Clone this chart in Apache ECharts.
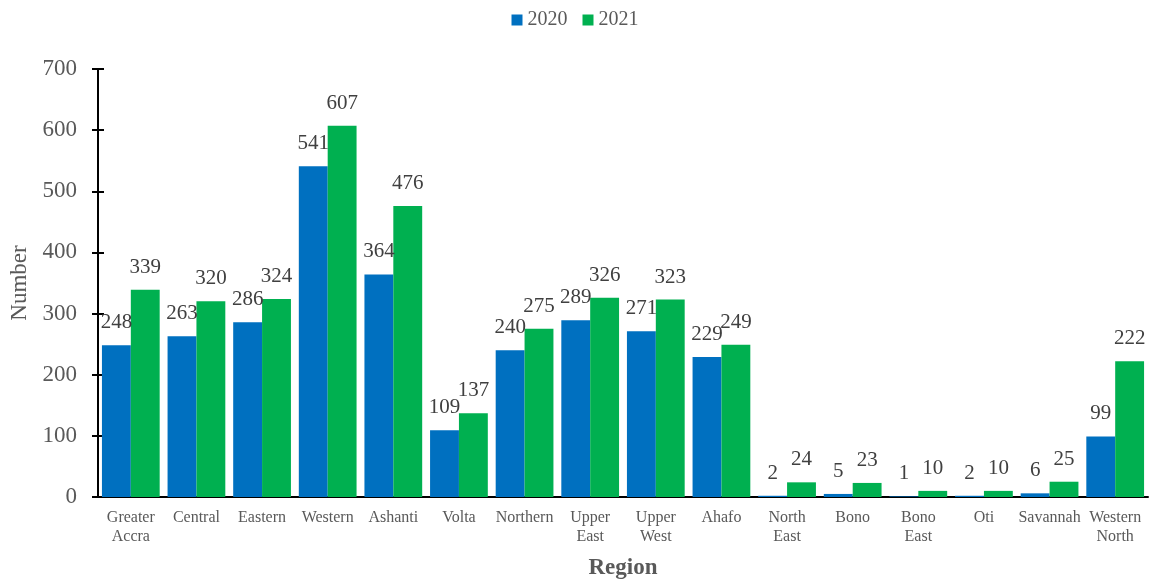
<!DOCTYPE html>
<html>
<head>
<meta charset="utf-8">
<script src="https://cdn.jsdelivr.net/npm/echarts@6/dist/echarts.min.js"></script>
<style>
html,body{margin:0;padding:0;background:#fff;}
#chart{width:1150px;height:581px;}
</style>
</head>
<body>
<div id="chart"></div>
<script>
// Regional counts for 2020 and 2021
const regions = ['Greater\nAccra','Central','Eastern','Western','Ashanti','Volta','Northern','Upper\nEast','Upper\nWest','Ahafo','North\nEast','Bono','Bono\nEast','Oti','Savannah','Western\nNorth'];
const values2020 = [248,263,286,541,364,109,240,289,271,229,2,5,1,2,6,99];
const values2021 = [339,320,324,607,476,137,275,326,323,249,24,23,10,10,25,222];
const yTicks = {min:0, max:700, interval:100};

const FONT = '"Liberation Serif","Times New Roman",serif';
const chart = echarts.init(document.getElementById('chart'));

const labelStyle = {
  show: true, position: 'top', distance: 12,
  color: '#404040', fontFamily: FONT, fontSize: 21
};

chart.setOption({
  animation: false,
  textStyle: {fontFamily: FONT},
  legend: {
    top: 5, left: 'center',
    itemWidth: 11, itemHeight: 11, itemGap: 15,
    icon: 'rect',
    textStyle: {fontFamily: FONT, fontSize: 20, color: '#595959'},
    data: ['2020','2021']
  },
  grid: {left: 98, right: 2, top: 69, bottom: 84, containLabel: false, outerBoundsMode: 'none'},
  xAxis: {
    type: 'category',
    data: regions,
    name: 'Region',
    nameLocation: 'middle',
    nameGap: 60,
    nameTextStyle: {fontFamily: FONT, fontSize: 23, fontWeight: 'bold', color: '#595959'},
    axisLine: {lineStyle: {color: '#000', width: 2}},
    axisTick: {show: false},
    axisLabel: {fontFamily: FONT, fontSize: 16, color: '#595959', lineHeight: 19, margin: 11, interval: 0}
  },
  yAxis: [{
    type: 'value',
    min: yTicks.min, max: yTicks.max, interval: yTicks.interval,
    name: 'Number',
    nameLocation: 'middle',
    nameGap: 60,
    nameTextStyle: {fontFamily: FONT, fontSize: 23, color: '#595959'},
    axisLine: {show: true, lineStyle: {color: '#000', width: 2}},
    axisTick: {show: true, length: 6, lineStyle: {color: '#000', width: 2}},
    axisLabel: {fontFamily: FONT, fontSize: 23, color: '#595959', margin: 21},
    splitLine: {show: false}
  }, {
    // inner half of the crossing tick marks
    type: 'value',
    position: 'left',
    min: yTicks.min, max: yTicks.max, interval: yTicks.interval,
    axisLine: {show: false},
    axisTick: {show: true, inside: true, length: 6, lineStyle: {color: '#000', width: 2}},
    axisLabel: {show: false},
    splitLine: {show: false}
  }],
  series: [{
    name: '2020', type: 'bar', data: values2020,
    itemStyle: {color: '#0070C0'},
    barGap: '0%', barCategoryGap: '12%',
    label: labelStyle
  }, {
    name: '2021', type: 'bar', data: values2021,
    itemStyle: {color: '#00B050'},
    barGap: '0%', barCategoryGap: '12%',
    label: labelStyle
  }]
});
</script>
</body>
</html>
